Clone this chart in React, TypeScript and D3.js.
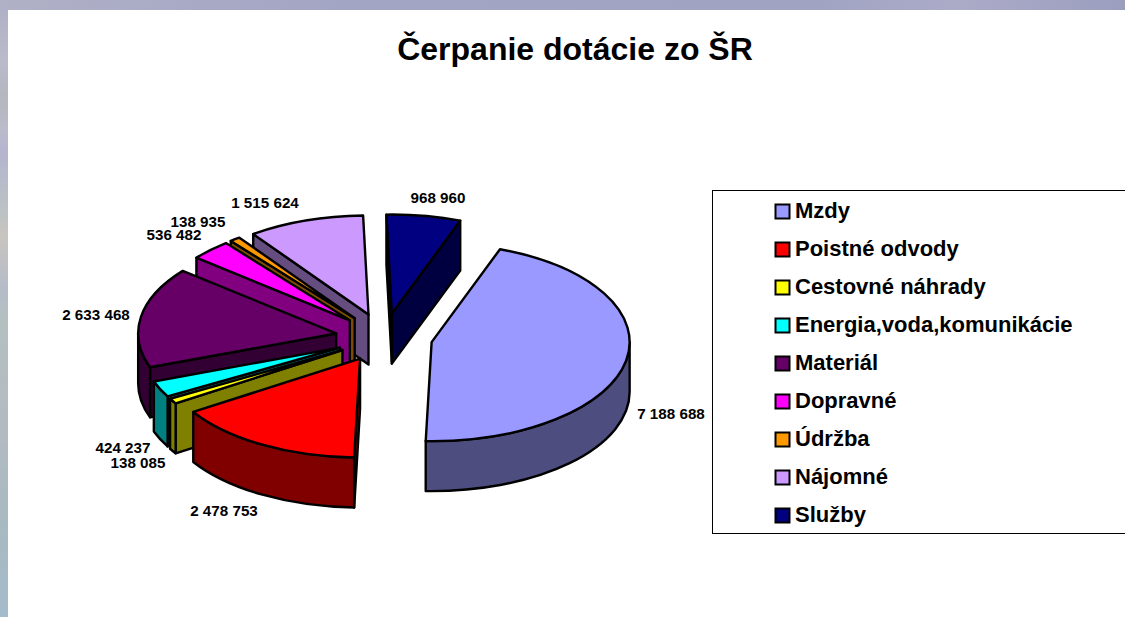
import React from "react";
import * as d3 from "d3";

const categories = ["Mzdy", "Poistné odvody", "Cestovné náhrady", "Energia,voda,komunikácie", "Materiál", "Dopravné", "Údržba", "Nájomné", "Služby"];
const values = [7188688, 2478753, 138085, 424237, 2633468, 536482, 138935, 1515624, 968960];
const valueLabels = ["7 188 688", "2 478 753", "138 085", "424 237", "2 633 468", "536 482", "138 935", "1 515 624", "968 960"];
const topColors = ["#9999FF", "#FF0000", "#FFFF00", "#00FFFF", "#660066", "#FF00FF", "#FF9900", "#CC99FF", "#000080"];
const sideColors = ["#4D4D80", "#800000", "#808000", "#008080", "#330033", "#800080", "#804D00", "#664D80", "#000040"];
const labelCenters: [number, number][] = [[671, 414], [224, 511], [138, 463], [123, 448], [96, 315], [174, 235], [198, 222], [265, 203], [438, 198]];
const leftStops: [number, string][] = [[0, "#B0B0C6"], [60, "#BABACB"], [100, "#B5B6BE"], [130, "#BCBBCC"], [150, "#B4B4CF"], [215, "#BCC3C4"], [235, "#C9C4C0"], [290, "#B4BCC9"], [320, "#B4C0C0"], [440, "#B2BAC2"], [510, "#A9BAC0"], [617, "#A4BBCB"]];

const W = 1125, H = 617;
const cx = 384, cy = 337.5, rx = 198, ry = 99, depth = 50, explode = 0.245;
const startDeg = 20.2;

type S = { i: number; a: number; b: number; ox: number; oy: number };

const pie = d3.pie<number>().sort(null).startAngle((startDeg * Math.PI) / 180).endAngle(((startDeg + 360) * Math.PI) / 180);
const slices: S[] = pie(values).map((d, i) => {
  const m = (d.startAngle + d.endAngle) / 2;
  return { i, a: d.startAngle, b: d.endAngle, ox: cx + explode * rx * Math.sin(m), oy: cy - explode * ry * Math.cos(m) };
});
const order = [...slices].sort((p, q) => p.oy - q.oy);

const pt = (s: S, t: number, dz = 0): [number, number] => [s.ox + rx * Math.sin(t), s.oy - ry * Math.cos(t) + dz];
const fmt = (p: [number, number]) => `${p[0].toFixed(2)},${p[1].toFixed(2)}`;
const arcTo = (s: S, t: number, dz: number, sweep: number, large = 0) => `A${rx},${ry} 0 ${large} ${sweep} ${fmt(pt(s, t, dz))}`;

function topPath(s: S) {
  const large = s.b - s.a > Math.PI ? 1 : 0;
  return `M${s.ox},${s.oy}L${fmt(pt(s, s.a))}${arcTo(s, s.b, 0, 1, large)}Z`;
}
function cutPath(s: S, t: number) {
  const p = pt(s, t);
  return `M${s.ox},${s.oy}L${fmt(p)}L${p[0]},${p[1] + depth}L${s.ox},${s.oy + depth}Z`;
}
function wallPath(s: S) {
  const a = Math.max(s.a, Math.PI / 2), b = Math.min(s.b, (Math.PI * 3) / 2);
  if (b <= a) return null;
  return `M${fmt(pt(s, a))}${arcTo(s, b, 0, 1)}L${fmt(pt(s, b, depth))}${arcTo(s, a, depth, 0)}Z`;
}

const legendY = d3.scalePoint<string>().domain(categories).range([211, 515]);

export default function App() {
  const strokeProps = { stroke: "#000", strokeWidth: 2.4, strokeLinejoin: "round" as const };
  return (
    <svg width={W} height={H} style={{ position: "fixed", left: 0, top: 0, display: "block" }} fontFamily="'Liberation Sans', Arial, sans-serif" fontWeight="bold">
      <defs>
        <linearGradient id="leftBg" x1="0" y1="0" x2="0" y2="1">
          {leftStops.map(([y, c]) => (
            <stop key={y} offset={y / H} stopColor={c} />
          ))}
        </linearGradient>
        <linearGradient id="topBg" x1="0" y1="0" x2="1" y2="0">
          <stop offset="0" stopColor="#B0B0C6" />
          <stop offset="0.3" stopColor="#A3A5C4" />
          <stop offset="0.72" stopColor="#A0A3C2" />
          <stop offset="0.85" stopColor="#ABABC8" />
          <stop offset="1" stopColor="#9C9EBF" />
        </linearGradient>
      </defs>
      <rect width={W} height={H} fill="#fff" />
      <rect x={0} y={0} width={8} height={H} fill="url(#leftBg)" />
      <rect x={0} y={0} width={W} height={10} fill="url(#topBg)" />
      <text x={575} y={60} textAnchor="middle" fontSize={32} fill="#000">Čerpanie dotácie zo ŠR</text>
      {order.map((s) => {
        const wall = wallPath(s);
        const showStart = Math.sin(s.a) < 0;
        const showEnd = Math.sin(s.b) > 0;
        return (
          <g key={s.i} {...strokeProps}>
            {showStart && <path d={cutPath(s, s.a)} fill={sideColors[s.i]} />}
            {showEnd && <path d={cutPath(s, s.b)} fill={sideColors[s.i]} />}
            {wall && <path d={wall} fill={sideColors[s.i]} />}
            <path d={topPath(s)} fill={topColors[s.i]} />
          </g>
        );
      })}
      {valueLabels.map((t, i) => (
        <text key={i} x={labelCenters[i][0]} y={labelCenters[i][1]} dy="0.36em" textAnchor="middle" fontSize={15.2} fill="#000">{t}</text>
      ))}
      <rect x={712.5} y={190.5} width={W} height={343} fill="#fff" stroke="#000" strokeWidth={1} />
      {categories.map((c, i) => (
        <g key={c}>
          <rect x={775.5} y={legendY(c)! - 6.5} width={14} height={14} fill={topColors[i]} stroke="#000" strokeWidth={2} />
          <text x={795} y={legendY(c)! - 1} dy="0.36em" fontSize={22} fill="#000">{c}</text>
        </g>
      ))}
    </svg>
  );
}
